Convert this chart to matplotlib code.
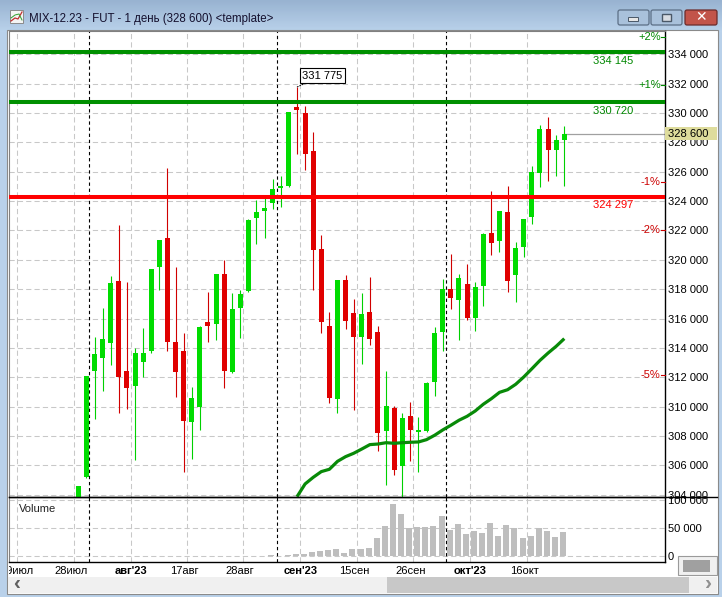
import numpy as np
import matplotlib
matplotlib.use("Agg")
import matplotlib.pyplot as plt
from matplotlib.patches import Rectangle, FancyBboxPatch
from matplotlib.transforms import Bbox, ScaledTranslation

plt.rcParams['font.family'] = ['Liberation Sans', 'DejaVu Sans']

# prices in thousands of index points
opens = [303.30,305.23,312.42,313.31,314.33,318.55,312.42,311.40,313.04,313.79,319.51,321.48,314.40,313.79,308.95,
         309.97,315.76,315.63,319.03,312.36,316.72,317.87,322.85,323.32,323.87,324.89,325.03,330.41,330.00,327.41,
         320.73,315.49,310.52,318.62,316.38,314.74,316.44,315.08,308.34,309.90,305.95,309.36,308.30,308.34,311.67,
         315.08,318.01,317.26,318.35,316.03,318.21,321.83,321.28,323.26,318.96,320.87,322.91,325.91,328.91,327.48,328.16]
closes = [304.59,312.08,313.58,314.60,318.42,312.02,311.27,313.65,313.65,319.37,321.35,314.40,312.36,309.02,310.58,
          315.42,315.49,319.03,312.42,316.65,317.67,322.71,323.26,323.53,324.82,325.03,330.07,330.20,327.21,320.67,
          315.76,310.58,318.62,315.83,314.74,316.31,314.60,308.20,310.04,305.68,309.22,308.41,308.34,311.61,315.01,
          318.01,317.40,318.76,316.03,318.15,321.76,321.14,323.32,318.56,320.80,322.78,325.98,328.91,327.48,328.16,328.60]
highs = [304.59,312.08,314.74,316.72,318.90,322.37,318.49,313.99,315.35,319.40,321.38,326.25,319.51,315.01,311.33,
         315.49,317.81,319.03,319.99,317.74,317.94,322.78,324.07,324.30,325.50,325.71,330.07,331.775,330.48,328.70,
         321.69,316.44,318.62,318.96,317.33,317.74,318.83,315.49,312.42,310.04,309.56,310.31,309.29,311.67,315.42,
         318.69,320.39,319.03,319.71,318.49,321.80,324.69,323.32,325.03,321.21,322.78,326.39,329.18,329.73,328.50,329.11]
lows = [303.30,305.16,309.15,311.06,312.83,309.56,309.84,306.36,311.99,313.65,317.94,313.79,310.65,305.54,306.43,
        308.41,314.40,314.54,311.27,312.29,314.67,317.81,321.08,321.48,323.46,323.60,324.96,327.21,326.12,317.94,
        315.01,310.24,309.56,315.29,309.77,312.90,314.20,306.97,304.66,305.34,303.80,306.29,305.54,308.29,310.72,
        313.79,316.65,314.54,315.90,315.15,316.85,320.33,320.53,317.81,317.12,320.19,322.44,324.96,325.37,325.71,325.03]
volumes = [0,0,0,0,0,600,0,0,0,0,500,600,500,600,0,0,0,0,700,400,300,300,500,500,
           1800,1000,2400,4200,4200,7700,9500,11300,13100,6000,13100,13100,14900,32700,54100,93400,75600,50000,
           52400,52400,54100,72000,47000,57700,39900,45200,41700,59500,36300,55900,50000,32700,36300,50000,45200,34500,43400]
ma_start = 27
ma_values = [303.86,304.73,305.18,305.57,305.73,306.27,306.59,306.82,307.11,307.41,307.45,307.54,307.50,307.54,307.57,
             307.59,307.75,308.05,308.41,308.73,309.07,309.34,309.70,310.16,310.54,310.97,311.15,311.52,312.02,312.58,
             313.15,313.65,314.11,314.63]
green_levels = [334.145, 330.720]
red_levels = [324.297]
pct_levels = [2, 1, -1, -2, -5]
price_ticks = list(range(304, 335, 2))
volume_ticks = [0, 50000, 100000]
grid_positions = [-7.53, -0.57, 6.47, 13.46, 20.37, 27.40, 34.40, 41.36, 48.40, 55.43]
grid_labels = ['19июл', '28июл', "авг'23", '17авг', '28авг', "сен'23", '15сен', '26сен', "окт'23", '16окт']
month_marks = [1.36, 24.50, 45.40]
title = 'MIX-12.23 - FUT - 1 день (328 600) <template>'
pane_label = 'Volume'
FS = 8.0

W, H = 722, 597
fig = plt.figure(figsize=(W / 100, H / 100), dpi=100)

# ---- window chrome ----
bg = fig.add_axes([0, 0, 1, 1], zorder=0)
bg.set_xlim(0, W); bg.set_ylim(H, 0); bg.axis('off')
bg.add_patch(Rectangle((0, 0), W, H, fc='#B9D1EA', ec='none'))
grad = np.linspace(0, 1, 32)[:, None, None]
c0, c1 = np.array([0x98, 0xB3, 0xD1]) / 255, np.array([0xBA, 0xD2, 0xEB]) / 255
bg.imshow(c0 + (c1 - c0) * grad, extent=(0, W, 32, 0), aspect='auto', zorder=1)
bg.set_xlim(0, W); bg.set_ylim(H, 0)
bg.add_patch(Rectangle((7, 30), 711, 564, fc='white', ec='#8A8A8A', lw=0.8, zorder=2))
bg.add_patch(Rectangle((8, 577), 709, 16, fc='#F0F0F0', ec='none', zorder=3))
bg.add_patch(Rectangle((387, 577), 302, 16, fc='#C8C8C8', ec='none', zorder=4))
bg.text(17, 584, '‹', fontsize=15, fontweight='bold', color='#606060', ha='center', va='center', zorder=5)
bg.text(709, 584, '›', fontsize=15, fontweight='bold', color='#909090', ha='center', va='center', zorder=5)
bg.add_patch(Rectangle((678, 556), 39, 19, fc='#F0F0F0', ec='#9A9A9A', lw=0.8, zorder=4))
bg.add_patch(Rectangle((683, 560), 27, 12, fc='#A0A0A0', ec='none', zorder=5))
for x0, x1, fc, ec in [(618, 649, '#A9C1DB', '#5C6F86'), (651, 682, '#A9C1DB', '#5C6F86'), (685, 717, '#C2544A', '#6B2B2B')]:
    bg.add_patch(FancyBboxPatch((x0, 10), x1 - x0, 15, boxstyle='round,pad=0,rounding_size=2', fc=fc, ec=ec, lw=0.9, zorder=3))
bg.add_patch(Rectangle((628, 17), 10, 4, fc='#E6E6E6', ec='#4A5868', lw=0.7, zorder=4))
bg.add_patch(Rectangle((662, 14), 9, 7, fc='#D8DCE2', ec='#4A5868', lw=1.0, zorder=4))
bg.text(701, 17.5, '✕', fontsize=10, fontweight='bold', color='white', ha='center', va='center', zorder=4,
        family=['DejaVu Sans'])
bg.add_patch(Rectangle((10, 10), 13, 13, fc='#F4F4F4', ec='#8A8A8A', lw=0.7, zorder=3))
bg.plot([11, 15, 18, 22], [21, 18, 19, 12], color='#C03030', lw=0.9, zorder=4)
bg.plot([11, 15, 19, 22], [18, 15, 14, 20], color='#30A030', lw=0.7, zorder=4)
bg.text(29, 19, title, fontsize=8.3, color='#14102E', ha='left', va='center', zorder=4)

# ---- panes ----
L, R, T, B, BV = 9, 665.3, 31, 497.3, 562.3
ax = fig.add_axes([L / W, 1 - B / H, (R - L) / W, (B - T) / H], zorder=2)
vx = fig.add_axes([L / W, 1 - BV / H, (R - L) / W, (BV - B) / H], zorder=1)
xl = (-8.556, 72.47)
dash = (0, (5, 3))
for a in (ax, vx):
    a.set_xlim(*xl)
    a.set_axisbelow(True)
    a.set_xticks(grid_positions)
    a.grid(True, color='#C8C8C8', lw=0.75, linestyle=dash)
    a.yaxis.tick_right()
    a.tick_params(axis='y', length=0, pad=1.8, labelsize=FS, labelcolor='black')
    a.spines['left'].set_color('#808080')
    a.spines['top'].set_color('#808080')
    a.spines['right'].set_linewidth(1.0)
    a.spines['bottom'].set_linewidth(1.0)
    for m in month_marks:
        a.axvline(m, color='black', lw=0.8, linestyle=(0, (3, 2.5)), zorder=1.5)
ax.set_ylim(303.82, 335.59)
ax.set_yticks(price_ticks, [f"{v * 1000:,}".replace(',', ' ') for v in price_ticks])
ax.tick_params(axis='x', length=0, labelbottom=False)
vx.set_ylim(-10714, 105357)
vx.set_yticks(volume_ticks, [f"{v:,}".replace(',', ' ') for v in volume_ticks])
vx.tick_params(axis='x', length=0, pad=2.5, labelsize=FS)
vx.set_xticklabels(grid_labels)
vx.spines['top'].set_visible(False)
clip = Bbox([[L, 0], [W, H]])
for k, (lab, txt) in enumerate(zip(vx.get_xticklabels(), grid_labels)):
    lab.set_clip_box(clip)
    lab.set_clip_on(True)
    if "'" in txt:
        lab.set_fontweight('bold')
    else:
        shift = -1 if k == 0 else -3
        lab.set_transform(lab.get_transform() + ScaledTranslation(shift / 100, 0, fig.dpi_scale_trans))

# ---- candles ----
idx = np.arange(len(opens))
o, c, h, l = map(np.array, (opens, closes, highs, lows))
up = c >= o
body_w = 5.0 / 8.1
bottoms = np.minimum(o, c)
sizes = np.maximum(np.abs(c - o), 0.08)
ax.vlines(idx[up], l[up], h[up], color='#00D000', lw=0.8, zorder=3, snap=True)
ax.vlines(idx[~up], l[~up], h[~up], color='#D00000', lw=0.8, zorder=3, snap=True)
ax.bar(idx[up], sizes[up], bottom=bottoms[up], width=body_w, color='#00DC00', zorder=3.1, linewidth=0)
ax.bar(idx[~up], sizes[~up], bottom=bottoms[~up], width=body_w, color='#E00000', zorder=3.1, linewidth=0)

# ---- moving average ----
ax.plot(idx[ma_start:], ma_values, color='#088A08', lw=2.3, zorder=4, solid_capstyle='butt')

# ---- levels ----
for v in green_levels:
    ax.axhline(v, color='#009000', lw=2.9, zorder=4)
    ax.annotate(f"{int(round(v * 1000)):,}".replace(',', ' '), (613, v), xycoords=('figure pixels', 'data'),
                xytext=(0, -8.5 * 0.72), textcoords='offset points', ha='center', va='center', fontsize=FS, color='#008800', zorder=5)
for v in red_levels:
    ax.axhline(v, color='#FF0000', lw=2.9, zorder=4)
    ax.annotate(f"{int(round(v * 1000)):,}".replace(',', ' '), (613, v), xycoords=('figure pixels', 'data'),
                xytext=(0, -8.5 * 0.72), textcoords='offset points', ha='center', va='center', fontsize=FS, color='#FF0000', zorder=5)

# ---- percent marks relative to last close ----
ytrans = ax.get_yaxis_transform()
for p in pct_levels:
    v = closes[-1] * (1 + p / 100)
    col = '#008800' if p > 0 else '#CC0000'
    ax.plot([0.9935, 1.0], [v, v], transform=ytrans, color=col, lw=0.8, zorder=5, clip_on=False)
    ax.annotate(f"{p:+d}%", (0.993, v), xycoords=ytrans, ha='right', va='center', fontsize=FS, color=col, zorder=5)

# ---- last price ----
ax.plot([idx[-1], xl[1]], [closes[-1]] * 2, color='#A0A0A0', lw=0.9, zorder=2.5)
ax.add_patch(Rectangle((1.0, closes[-1] - 0.42), 0.0788, 0.84, transform=ytrans, fc='#DEDC9C', ec='none', clip_on=False, zorder=6))
ax.annotate(f"{int(round(closes[-1] * 1000)):,}".replace(',', ' '), (1.004, closes[-1]), xycoords=ytrans, ha='left', va='center',
            fontsize=FS, color='black', zorder=7, annotation_clip=False)

# ---- max callout ----
imax = int(np.argmax(h))
ax.annotate(f"{h[imax] * 1000:,.0f}".replace(',', ' '), (idx[imax], h[imax]), xytext=(322.3 / W, 1 - 75.7 / H), textcoords='figure fraction',
            ha='center', va='center', fontsize=FS, color='black', zorder=7,
            bbox=dict(boxstyle='square,pad=0.2', fc='white', ec='black', lw=0.8),
            arrowprops=dict(arrowstyle='-', color='black', lw=0.7, linestyle=':', shrinkA=0, shrinkB=0))

# ---- volume ----
vx.bar(idx - 0.15, volumes, width=6 / 8.1, color='#BEBEBE', zorder=3, linewidth=0)
vx.text(19 / W, 1 - 509 / H, pane_label, transform=fig.transFigure, fontsize=FS, color='#222222', ha='left', va='center')

# separator runs through the scale column
ax.plot([0, 1.0788], [0, 0], transform=ax.transAxes, color='black', lw=1.0, clip_on=False, zorder=8)

fig.savefig('out.png', dpi=100)
